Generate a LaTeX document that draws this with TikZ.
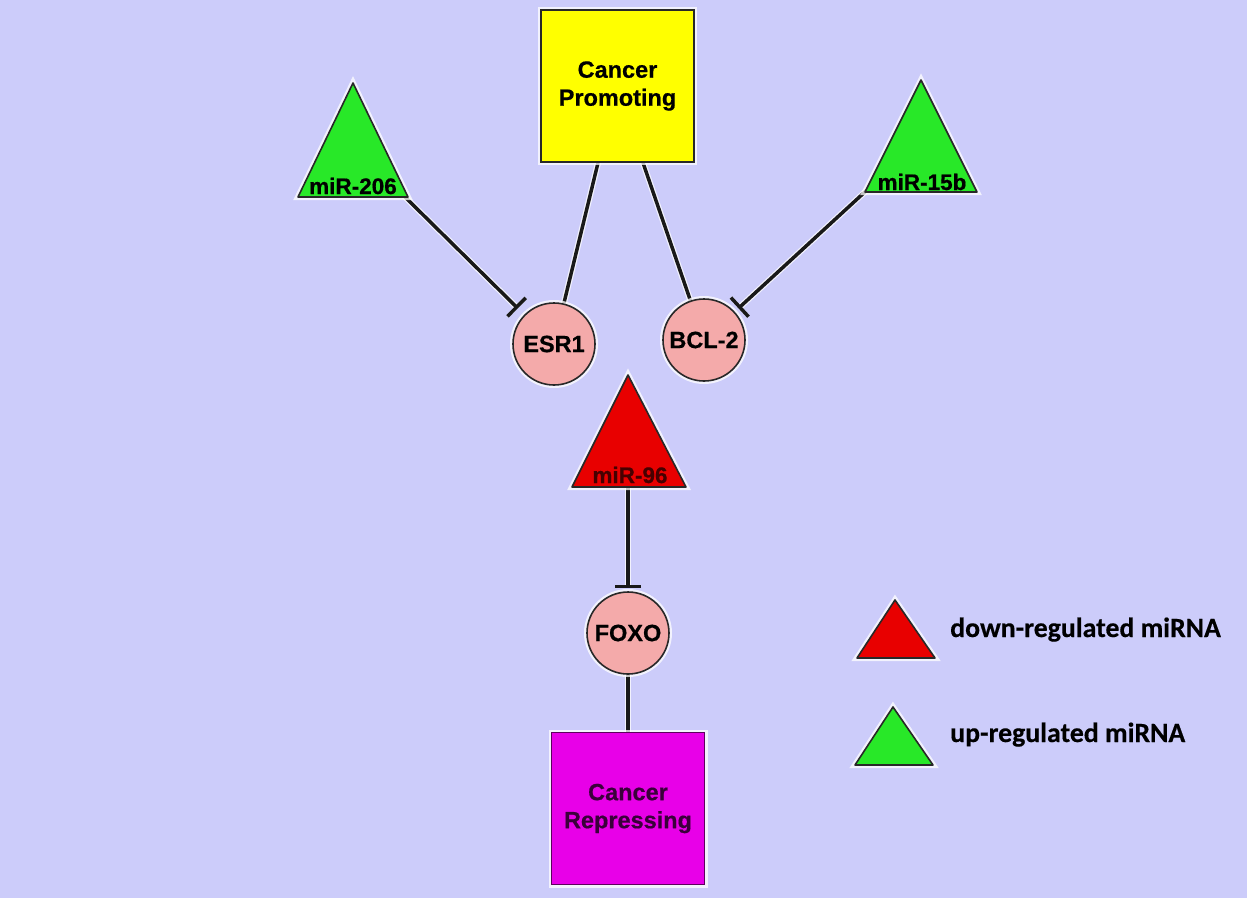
\documentclass[tikz,border=0pt]{standalone}
\usepackage{fontspec}
\setmainfont{Liberation Sans}[BoldFeatures={FakeBold=0.6}]
\newfontfamily\legendfont{Carlito}[BoldFeatures={FakeBold=0.4}]
\usetikzlibrary{arrows.meta}
\definecolor{bgc}{RGB}{204,204,250}
\definecolor{grn}{RGB}{40,232,40}
\definecolor{redc}{RGB}{232,0,0}
\definecolor{yel}{RGB}{255,255,0}
\definecolor{mag}{RGB}{232,0,232}
\definecolor{pnk}{RGB}{244,170,170}
\definecolor{edge}{RGB}{40,40,40}
\pgfdeclarelayer{back}
\pgfdeclarelayer{lines}
\pgfsetlayers{back,lines,main}
\tikzset{
  halo/.style={preaction={draw=white, line width=6pt, opacity=0.75}},
  link/.style={draw=black!90, line width=3.5pt, halo},
  inhib/.style={link, -{Bar[width=26pt,line width=3.5pt]}, shorten >=5pt},
  gene/.style={circle, draw=edge, fill=pnk, line width=1.6pt, minimum size=82pt,
    inner sep=0pt, font=\bfseries\fontsize{23.5}{26}\selectfont, halo},
  bigbox/.style={rectangle, line width=1.6pt, minimum width=153pt, minimum height=152pt,
    align=center, inner sep=0pt, font=\bfseries\fontsize{23.5}{28}\selectfont, halo},
  tri/.style={draw=edge, line width=1.6pt, line join=round, halo},
  trilabel/.style={anchor=base, inner sep=0pt, font=\bfseries\fontsize{22.5}{24}\selectfont},
  legtext/.style={anchor=base west, inner sep=0pt, font=\legendfont\bfseries\fontsize{27.8}{30}\selectfont}
}
\begin{document}
\begin{tikzpicture}[x=1pt,y=-1pt]
\begin{pgfonlayer}{back}
  \fill[bgc] (0,0) rectangle (1247,898);
\end{pgfonlayer}
\useasboundingbox (0,0) rectangle (1247,898);

% boxes and genes
\node[bigbox, fill=yel, draw=edge] (cp) at (617.5,86) {Cancer\\Promoting};
\node[bigbox, fill=mag, draw=black!60!mag, text=black!75!mag] (cr) at (628,808.5) {Cancer\\Repressing};
\node[gene] (esr1) at (554,344) {ESR1};
\node[gene] (bcl2) at (704,340) {BCL-2};
\node[gene] (foxo) at (628,633) {FOXO};

% triangle connector points
\coordinate (t206) at (404,196);
\coordinate (t15b) at (867,190);
\coordinate (t96) at (628,487);

% connectors
\begin{pgfonlayer}{lines}
  \draw[link] ([xshift=-19.5pt]cp.south) -- (esr1);
  \draw[link] ([xshift=25.5pt]cp.south) -- (bcl2);
  \draw[inhib, shorten >=9pt] (t206) -- (esr1);
  \draw[inhib] (t15b) -- (bcl2);
  \draw[inhib, shorten >=3pt] (t96) -- (foxo);
  \draw[link] (foxo) -- (cr);
\end{pgfonlayer}

% miRNA triangles
\filldraw[tri, fill=grn] (298,197) -- (353,83) -- (408,197) -- cycle;
\node[trilabel] (l206) at (353,194) {miR-206};
\filldraw[tri, fill=grn] (865,192) -- (921,80) -- (977,192) -- cycle;
\node[trilabel] (l15b) at (922,190) {miR-15b};
\filldraw[tri, fill=redc] (572,487) -- (628,375) -- (686,487) -- cycle;
\node[trilabel, text=black!70!redc] (l96) at (630,483) {miR-96};

% legend
\filldraw[tri, fill=redc] (857,658) -- (895,600) -- (935,658) -- cycle;
\node[legtext] (ldown) at (950,637) {down-regulated miRNA};
\filldraw[tri, fill=grn] (855,765) -- (893,707) -- (933,765) -- cycle;
\node[legtext] (lup) at (950,742) {up-regulated miRNA};
\end{tikzpicture}
\end{document}
